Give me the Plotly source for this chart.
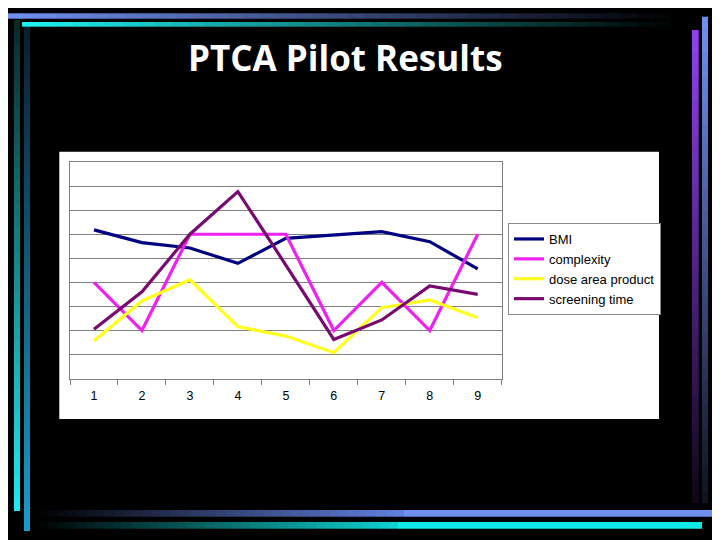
import plotly.graph_objects as go

W, H = 720, 540
OX, OY = 8, 8  # page offset compensation

categories = [1, 2, 3, 4, 5, 6, 7, 8, 9]
bmi = [6.18, 5.65, 5.43, 4.79, 5.83, 5.96, 6.11, 5.69, 4.56]
complexity = [4.0, 2.0, 6.0, 6.0, 6.0, 2.0, 4.0, 2.0, 6.0]
dose_area_product = [1.58, 3.23, 4.11, 2.16, 1.77, 1.08, 2.95, 3.27, 2.53]
screening_time = [2.05, 3.61, 6.0, 7.77, 4.72, 1.63, 2.44, 3.85, 3.50]

series = [
    ("BMI", bmi, "#000080"),
    ("complexity", complexity, "#F020F0"),
    ("dose area product", dose_area_product, "#FFFF20"),
    ("screening time", screening_time, "#780A70"),
]

fig = go.Figure()
for name, vals, col in series:
    fig.add_trace(go.Scatter(x=categories, y=vals, name=name, mode="lines",
                             line=dict(color=col, width=3.2)))


def px(x):
    return (x - OX) / W


def py(y):
    return 1 - (y - OY) / H


def hex2rgb(h):
    h = h.lstrip("#")
    return tuple(int(h[i:i + 2], 16) for i in (0, 2, 4))


def mix(c1, c2, t):
    a, b = hex2rgb(c1), hex2rgb(c2)
    return "rgb(%d,%d,%d)" % tuple(round(a[i] + (b[i] - a[i]) * t) for i in range(3))


shapes = []


def grad_bar(x0, y0, x1, y1, c0, c1, horizontal=True, n=40):
    for i in range(n):
        t = i / (n - 1)
        col = mix(c0, c1, t)
        if horizontal:
            a = x0 + (x1 - x0) * i / n
            b = x0 + (x1 - x0) * (i + 1) / n + 0.6
            shapes.append(dict(type="rect", xref="paper", yref="paper",
                               x0=px(a), x1=px(min(b, x1)), y0=py(y1), y1=py(y0),
                               fillcolor=col, line=dict(width=0), layer="below"))
        else:
            a = y0 + (y1 - y0) * i / n
            b = y0 + (y1 - y0) * (i + 1) / n + 0.6
            shapes.append(dict(type="rect", xref="paper", yref="paper",
                               x0=px(x0), x1=px(x1), y0=py(min(b, y1)), y1=py(a),
                               fillcolor=col, line=dict(width=0), layer="below"))


def solid(x0, y0, x1, y1, col):
    shapes.append(dict(type="rect", xref="paper", yref="paper",
                       x0=px(x0), x1=px(x1), y0=py(y1), y1=py(y0),
                       fillcolor=col, line=dict(width=0), layer="below"))


# decorative slide bars
grad_bar(5, 13.3, 688, 18.7, "#7090F0", "#000000")
grad_bar(22, 22, 688, 26.7, "#20F0F0", "#000000")
grad_bar(14, 20, 20, 511, "#0A2A2A", "#20E8F0", horizontal=False)
grad_bar(24, 27, 30, 531, "#0A2030", "#1A9AC8", horizontal=False)
grad_bar(30, 510, 404, 516.7, "#000000", "#6080E0")
solid(404, 510, 717, 516.7, "#7090F0")
grad_bar(30, 522, 398, 528.7, "#000000", "#10D0D0")
solid(398, 522, 702, 528.7, "#10E8E8")
grad_bar(692, 30, 698.7, 503, "#9040F0", "#100818", horizontal=False)
grad_bar(702, 16.7, 708, 503, "#7090F0", "#101420", horizontal=False)

# white chart box
solid(59.3, 151.7, 659, 419, "#FFFFFF")

fig.update_layout(
    width=W, height=H,
    margin=dict(l=0, r=0, t=0, b=0),
    paper_bgcolor="#000000",
    plot_bgcolor="#C0C0C0",
    shapes=shapes,
    showlegend=True,
    legend=dict(x=px(508), y=py(223), xanchor="left", yanchor="top",
                bgcolor="#FFFFFF", bordercolor="#888888", borderwidth=1,
                font=dict(family="Liberation Sans, Arial", size=13, color="#000000"),
                itemwidth=30, tracegroupgap=0),
    annotations=[dict(text="<b>PTCA Pilot Results</b>", xref="paper", yref="paper",
                      x=px(345.5), y=py(57), xanchor="center", yanchor="middle",
                      showarrow=False,
                      font=dict(family="Open Sans", size=35, color="#FFFFFF"))],
    xaxis=dict(domain=[px(70), px(501.7)], range=[0.5, 9.5], tickmode="array",
               tickvals=categories, ticktext=[str(c) for c in categories],
               ticks="", showgrid=False, zeroline=False,
               showline=True, linecolor="#808080", linewidth=1, mirror=True,
               tickfont=dict(family="Liberation Sans, Arial", size=12.5, color="#000000"),
               ticklabelstandoff=5,
               minor=dict(tickmode="linear", tick0=0.5, dtick=1, ticks="outside",
                          ticklen=5, tickcolor="#808080", showgrid=False)),
    yaxis=dict(domain=[py(378.7), py(162)], range=[0, 9], dtick=1, tick0=0,
               showticklabels=False, ticks="", showgrid=True, gridcolor="#808080",
               gridwidth=1, zeroline=False,
               showline=True, linecolor="#808080", linewidth=1, mirror=True),
)

fig.write_html("out.html")
